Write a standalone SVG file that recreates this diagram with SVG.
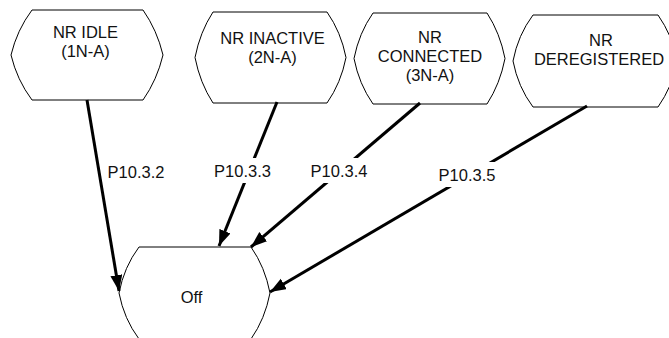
<svg xmlns="http://www.w3.org/2000/svg" width="669" height="338" viewBox="0 0 669 338">
<style>
.node{fill:#fff;stroke:#000;stroke-width:1}
.t{font-family:"Liberation Sans",Arial,sans-serif;font-size:16.5px;fill:#111;text-anchor:middle}
.c{fill:none;stroke:#000;stroke-width:3}
.lb{fill:#fff}
</style>
<defs>
<marker id="arr" markerUnits="userSpaceOnUse" markerWidth="17" markerHeight="13" refX="16" refY="6" orient="auto">
<path d="M0,0 L16,6 L0,12 Z" fill="#000"/>
</marker>
</defs>
<rect width="669" height="338" fill="#fff"/>
<g id="n1">
<path class="node" d="M32,10 H143 Q157,30 163,55 Q157,80 143,100 H32 Q17,80 11,55 Q17,30 32,10 Z"/>
<text class="t" x="85.5" y="37.5">NR IDLE</text>
<text class="t" x="85.5" y="56.5">(1N-A)</text>
</g>
<g id="n2">
<path class="node" d="M213,12 H327 Q341,32 346,57.5 Q341,83 327,103 H213 Q200,83 195,57.5 Q200,32 213,12 Z"/>
<text class="t" x="272.5" y="43.5">NR INACTIVE</text>
<text class="t" x="272.5" y="62.5">(2N-A)</text>
</g>
<g id="n3">
<path class="node" d="M373,13 H487 Q500,33 505,58.5 Q500,84 487,104 H373 Q359,84 354,58.5 Q359,33 373,13 Z"/>
<text class="t" x="430" y="42.5">NR</text>
<text class="t" x="430" y="61.5">CONNECTED</text>
<text class="t" x="430" y="80.5">(3N-A)</text>
</g>
<g id="n4">
<path class="node" d="M533,15 H658 Q672,35 678,61 Q672,87 658,107 H533 Q518,87 513,61 Q518,35 533,15 Z"/>
<text class="t" x="601" y="46">NR</text>
<text class="t" x="599" y="65">DEREGISTERED</text>
</g>
<g id="off">
<path class="node" d="M139,247 H251 Q265,267 270,293 Q265,319 251,339 H139 Q124,319 119,293 Q124,267 139,247 Z"/>
<text class="t" x="191.5" y="303">Off</text>
</g>
<g id="connectors">
<line class="c" x1="87" y1="100" x2="119" y2="291" marker-end="url(#arr)"/>
<line class="c" x1="277" y1="102" x2="219" y2="246" marker-end="url(#arr)"/>
<line class="c" x1="420" y1="103" x2="251" y2="247" marker-end="url(#arr)"/>
<line class="c" x1="587" y1="106" x2="270" y2="292" marker-end="url(#arr)"/>
<rect class="lb" x="105" y="159" width="62" height="25"/>
<text class="t" x="136" y="178">P10.3.2</text>
<rect class="lb" x="211" y="158" width="63" height="25"/>
<text class="t" x="242.5" y="177">P10.3.3</text>
<rect class="lb" x="308" y="158" width="62" height="25"/>
<text class="t" x="339" y="177">P10.3.4</text>
<rect class="lb" x="436" y="162" width="62" height="25"/>
<text class="t" x="467" y="181">P10.3.5</text>
</g>
</svg>
